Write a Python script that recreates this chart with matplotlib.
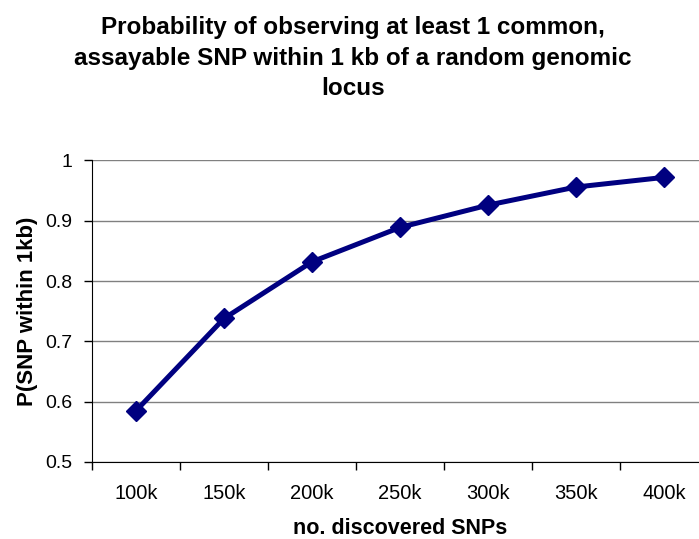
import matplotlib
matplotlib.use("Agg")
import matplotlib.pyplot as plt

# Values
categories = ["100k", "150k", "200k", "250k", "300k", "350k", "400k"]
p_snp = [0.585, 0.738, 0.832, 0.889, 0.926, 0.956, 0.972]
y_ticks = [0.5, 0.6, 0.7, 0.8, 0.9, 1.0]
y_tick_labels = ["0.5", "0.6", "0.7", "0.8", "0.9", "1"]

plt.rcParams['font.family'] = ['Liberation Sans', 'DejaVu Sans']

fig = plt.figure(figsize=(6.99, 5.39), dpi=100)
# plot area runs a little past the right edge of the image, as in the original
ax = fig.add_axes([92 / 699, 77 / 539, 616 / 699, 301.5 / 539])

x = [i + 0.5 for i in range(len(categories))]
ax.plot(x, p_snp, color='#000080', linewidth=3.6, marker='D',
        markersize=10.5, markerfacecolor='#000080', markeredgecolor='#000080',
        zorder=3, clip_on=False)

ax.set_xlim(0, len(categories))
ax.set_ylim(0.5, 1.0)
ax.set_xticks(range(len(categories) + 1))
ax.set_xticklabels([])
ax.set_xticks(x, minor=True)
ax.set_xticklabels(categories, minor=True, fontsize=14.5)
ax.tick_params(axis='x', which='minor', length=0, pad=16)
ax.tick_params(axis='x', which='major', direction='out', length=6, width=1,
               color='black')
ax.set_yticks(y_ticks)
ax.set_yticklabels(y_tick_labels, fontsize=14)
ax.tick_params(axis='y', direction='out', length=6, width=1, color='black', pad=8)

ax.grid(axis='y', color='#808080', linewidth=1)
ax.set_axisbelow(True)
for side in ['top', 'right']:
    ax.spines[side].set_visible(False)
ax.spines['left'].set_color('black')
ax.spines['bottom'].set_color('black')

ax.set_xlabel('no. discovered SNPs', fontsize=15.5, fontweight='bold', labelpad=11)
ax.set_ylabel('P(SNP within 1kb)', fontsize=16, fontweight='bold', labelpad=5)

fig.text(353 / 699, 1 - 58 / 539,
         'Probability of observing at least 1 common,\n'
         'assayable SNP within 1 kb of a random genomic\nlocus',
         ha='center', va='center', fontsize=17.5, fontweight='bold',
         linespacing=1.4)

fig.savefig('out.png', dpi=100)
